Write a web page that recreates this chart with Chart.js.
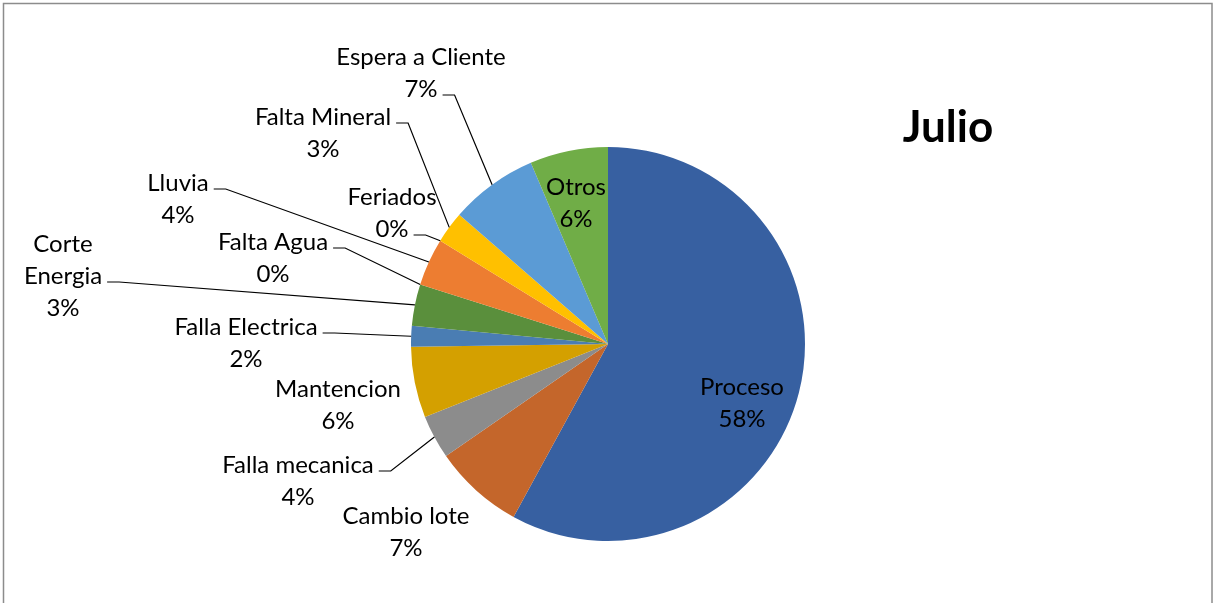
<!DOCTYPE html>
<html>
<head>
<meta charset="utf-8">
<title>Julio</title>
<script src="https://cdn.jsdelivr.net/npm/chart.js@4.4.0/dist/chart.umd.min.js"></script>
<style>
  html, body { margin: 0; padding: 0; background: #fff; }
  #wrap { width: 1213px; height: 603px; }
</style>
</head>
<body>
<div id="wrap"><canvas id="myCanvas" width="1213" height="603"></canvas></div>
<script>
'use strict';

// data

const chartTitle = 'Julio';
const categories = ['Proceso', 'Cambio lote', 'Falla mecanica', 'Mantencion', 'Falla Electrica', 'Corte Energia',
  'Falta Agua', 'Lluvia', 'Feriados', 'Falta Mineral', 'Espera a Cliente', 'Otros'];
const shares = [57.9, 7.4, 3.6, 5.8, 1.7, 3.4, 0, 3.9, 0, 2.6, 7.2, 6.4];

// styling

const sliceColors = ['#3760a1', '#c4662b', '#8c8c8c', '#d4a000', '#4a7db3', '#5a8f3c',
  '#9e480e', '#ed7d31', '#a5a5a5', '#ffc000', '#5b9bd5', '#70ad47'];

// label block centre, as offset from the pie centre; wrap = lines; lead = line the leader starts from
const labelSpots = [
  { dx: 134, dy: 59 },
  { dx: -202, dy: 188 },
  { dx: -310, dy: 137, lead: 0 },
  { dx: -270, dy: 61 },
  { dx: -362, dy: -1, lead: 0 },
  { dx: -545, dy: -68, lead: 1, wrap: ['Corte', 'Energia'] },
  { dx: -335, dy: -86, lead: 0 },
  { dx: -430, dy: -145, lead: 0 },
  { dx: -216, dy: -131, lead: 1 },
  { dx: -285, dy: -211, lead: 0 },
  { dx: -187, dy: -271, lead: 1 },
  { dx: -32, dy: -141 }
];

const labelFont = '24px Lato';
const lineHeight = 32;

// plugins

const frame = {
  id: 'frame',
  beforeDraw(chart) {
    const ctx = chart.ctx;
    ctx.save();
    ctx.strokeStyle = '#8c8c8c';
    ctx.lineWidth = 1.5;
    ctx.strokeRect(3.5, 3.5, 1208.5, 620);
    ctx.restore();
  }
};

const sliceLabels = {
  id: 'sliceLabels',
  afterDatasetsDraw(chart) {
    const ctx = chart.ctx;
    const arcs = chart.getDatasetMeta(0).data;
    const total = shares.reduce((a, b) => a + b, 0);
    ctx.save();
    ctx.font = labelFont;
    ctx.fillStyle = '#000';
    ctx.textAlign = 'center';
    ctx.textBaseline = 'middle';
    for (let i = 0; i < arcs.length; i++) {
      const arc = arcs[i];
      const spot = labelSpots[i];
      const pct = Math.round(shares[i] / total * 100) + '%';
      const lines = (spot.wrap || [categories[i]]).concat([pct]);
      const cx = arc.x + spot.dx;
      const top = arc.y + spot.dy - (lines.length - 1) * lineHeight / 2;
      for (let j = 0; j < lines.length; j++) {
        ctx.fillText(lines[j], cx, top + j * lineHeight);
      }
      if (spot.lead !== undefined) {
        // leader line: short flat piece then over to the slice edge
        const w = ctx.measureText(lines[spot.lead]).width;
        const sx = cx + w / 2 + 5;
        const sy = top + spot.lead * lineHeight + 6;
        const mid = (arc.startAngle + arc.endAngle) / 2;
        const ex = arc.x + Math.cos(mid) * arc.outerRadius;
        const ey = arc.y + Math.sin(mid) * arc.outerRadius;
        ctx.beginPath();
        ctx.strokeStyle = '#000';
        ctx.lineWidth = 1.2;
        ctx.moveTo(sx, sy);
        ctx.lineTo(sx + 12, sy);
        ctx.lineTo(ex, ey);
        ctx.stroke();
      }
    }
    // chart title
    ctx.font = 'bold 44px Lato';
    ctx.textAlign = 'center';
    ctx.fillText(chartTitle, 948, 128);
    ctx.restore();
  }
};

// chart

const data = {
  labels: categories,
  datasets: [{
    data: shares,
    backgroundColor: sliceColors,
    borderWidth: 0
  }]
};

const config = {
  type: 'pie',
  data: data,
  options: {
    responsive: false,
    animation: false,
    layout: {
      padding: { top: 147, bottom: 62, left: 411, right: 408 }
    },
    plugins: {
      legend: { display: false },
      tooltip: { enabled: false },
      title: { display: false }
    }
  },
  plugins: [frame, sliceLabels]
};

const canvas = document.getElementById('myCanvas');
const myChart = new Chart(canvas, config);
</script>
</body>
</html>
